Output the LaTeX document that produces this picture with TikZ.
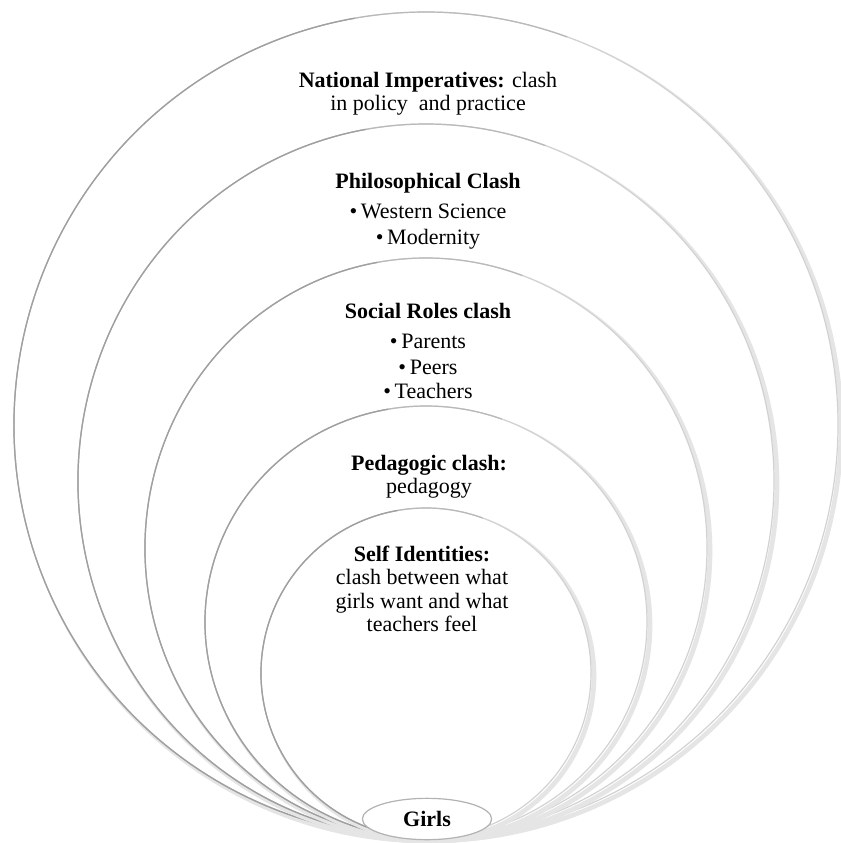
\documentclass[tikz,border=0pt]{standalone}
\usepackage{fontspec}
\setmainfont{Liberation Serif}
\usetikzlibrary{shapes.geometric}

\tikzset{
  ring/.style={fill=white, draw=gray!35, line width=0.9pt},
  ringmid/.style={draw=gray!55, line width=0.9pt},
  ringdark/.style={draw=gray!75, line width=0.9pt},
  ringshadow/.style={draw=black!10, line width=3.5pt},
  ringtext/.style={align=center, inner sep=0pt, font=\fontsize{16.5}{17.5}\selectfont},
  girlsbox/.style={ellipse, draw=gray!60, fill=white, line width=0.9pt,
    minimum width=97pt, minimum height=31pt, inner sep=0pt,
    font=\fontsize{16.5}{17.5}\selectfont\bfseries},
}

\begin{document}
\begin{tikzpicture}[x=0.75pt, y=-0.75pt, line join=round, line cap=round]
  \useasboundingbox (0,0) rectangle (840,843);

  % rings, outermost first, all resting on the same bottom point
  \foreach \rx/\ry in {412/413, 348/357, 281/290, 221/216, 165/165}{
    \pgfmathsetmacro\cy{838-\ry}
    \draw[ringshadow] (429,\cy+3) ellipse [x radius=\rx, y radius=\ry];
    \draw[ring] (426,\cy) ellipse [x radius=\rx, y radius=\ry];
    \draw[ringmid] ({426+\rx*cos(70)},{\cy+\ry*sin(70)})
      arc [start angle=70, end angle=290, x radius=\rx, y radius=\ry];
    \draw[ringdark] ({426+\rx*cos(100)},{\cy+\ry*sin(100)})
      arc [start angle=100, end angle=260, x radius=\rx, y radius=\ry];
  }

  \node[ringtext] (national) at (428,94)
    {\textbf{National Imperatives:} clash\\in policy\ \ and practice};
  \node[ringtext] (philo) at (428,211)
    {\textbf{Philosophical Clash}\\[5pt]\textbullet\,Western Science\\[2pt]\textbullet\,Modernity};
  \node[ringtext] (social) at (428,351)
    {\textbf{Social Roles clash}\\[5pt]\textbullet\,Parents\\[2pt]\textbullet\,Peers\\[1pt]\textbullet\,Teachers};
  \node[ringtext] (pedagogic) at (429,477)
    {\textbf{Pedagogic clash:}\\pedagogy};
  \node[ringtext] (self) at (422,589)
    {\textbf{Self Identities:}\\clash between what\\girls want and what\\teachers feel};

  \node[girlsbox] (girls) at (427,819) {Girls};
\end{tikzpicture}
\end{document}
